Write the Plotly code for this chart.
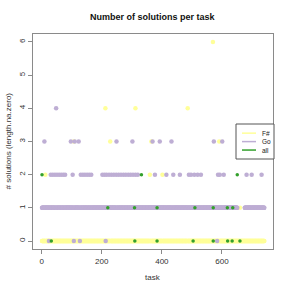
import plotly.graph_objects as go

# ---- data (one character per task, tasks 1..741) ----
FSHARP_STR = (
    "0000000000 0200000000 0000000000 0001000000 0000000000"   # 1-50
    "0000000000 0000000000 0000000000 0000000000 0000000000"   # 51-100
    "0000003000 0000000000 0000000000 0000000000 0000000000"   # 101-150
    "0000000000 0000000000 0000000000 0000000000 0000000000"   # 151-200
    "0000000000 0400000000 0000000300 0000000000 0000000000"   # 201-250
    "0000000000 0000000000 0000000000 0000000000 0000000000"   # 251-300
    "0000000000 0400000000 0000000000 0000000000 0000000000"   # 301-350
    "0000000002 0000300000 0000000000 0000000000 0000000000"   # 351-400
    "0200000000 0000000000 0000000000 0000000000 0000000000"   # 401-450
    "0000000000 0000000000 0000000000 0000040000 0000000000"   # 451-500
    "0000000000 0000000000 0000000000 0000000000 0000000000"   # 501-550
    "0000000000 0000000006 0000000000 0000000000 3000000000"   # 551-600
    "0000000000 0000000000 0000000000 0000000000 0000000000"   # 601-650
    "0000000001 0000000000 0000000000 0000000000 0000000000"   # 651-700
    "0000000000 0000000000 0000000000 0000000000 0"            # 701-741
)
GO_STR = (
    "1111111131 1111111111 1110111112 1111112111 1112111411"   # 1-50
    "2111111211 1111211111 1211111211 1111111111 1111113111"   # 51-100
    "1121110113 1111111111 1131110112 1111112111 1112111111"   # 101-150
    "2111111211 1111211111 1111111111 1111111111 1111111111"   # 151-200
    "1211111121 1101121111 1112111111 1211111112 1111111231"   # 201-250
    "1111121111 1112111111 1211111112 1111111211 1111121111"   # 251-300
    "1312111111 1211111112 1111111111 1111111111 1111111111"   # 301-350
    "1111111111 1111111131 1111112111 1111111111 1131111111"   # 351-400
    "1111111111 1111211111 1111111111 1311111211 1111111111"   # 401-450
    "1111111112 1111111111 1111111111 1111111112 1111112111"   # 451-500
    "1111111211 1111111121 1111111112 1111111111 1111111111"   # 501-550
    "1111111111 1111111111 1131111111 1110112111 1121111111"   # 551-600
    "3111121111 1111111111 1111111111 1111111111 1111111111"   # 601-650
    "1--------- ---------- -----11111 1211111111 1111111121"   # 651-700
    "1111111111 1111111111 1111111111 1211111111 1"            # 701-741
)
ALL_TASK = [32, 310, 384, 504, 571, 619, 634, 660,
            220, 309, 384, 510, 571, 618, 636,
            1, 332, 651]
ALL_VALUE = [0, 0, 0, 0, 0, 0, 0, 0,
             1, 1, 1, 1, 1, 1, 1,
             2, 2, 2]
SERIES_NAMES = ["F#", "Go", "all"]
X_TICKS = [0, 200, 400, 600]
Y_TICKS = [0, 1, 2, 3, 4, 5, 6]


def parse(s):
    chars = s.replace(" ", "")
    xs, ys = [], []
    for i, c in enumerate(chars):
        if c != "-":
            xs.append(i + 1)
            ys.append(int(c))
    return len(chars), xs, ys


n_f, fx, fy = parse(FSHARP_STR)
n_g, gx, gy = parse(GO_STR)
assert n_f == 741 and n_g == 741, (n_f, n_g)

C_F = "#FFFF99"
C_G = "#BEAED4"
C_A = "#33A02C"
COLORS = [C_F, C_G, C_A]
FONT = "Liberation Sans"

fig = go.Figure()
fig.add_trace(go.Scatter(x=fx, y=fy, mode="markers", name=SERIES_NAMES[0],
                         marker=dict(color=C_F, size=4.5, line=dict(width=0)),
                         showlegend=False))
fig.add_trace(go.Scatter(x=gx, y=gy, mode="markers", name=SERIES_NAMES[1],
                         marker=dict(color=C_G, size=4.5, line=dict(width=0)),
                         showlegend=False))
fig.add_trace(go.Scatter(x=ALL_TASK, y=ALL_VALUE, mode="markers", name=SERIES_NAMES[2],
                         marker=dict(color=C_A, size=3.5, line=dict(width=0)),
                         showlegend=False))

axis_common = dict(showgrid=False, zeroline=False, showline=True, mirror=True,
                   linecolor="#8a8a8a", linewidth=1, ticks="outside", ticklen=4,
                   tickcolor="#8a8a8a", automargin=False,
                   tickfont=dict(family=FONT, size=8, color="#333333"))
fig.update_xaxes(range=[-29, 770], tickvals=X_TICKS, **axis_common)
fig.update_yaxes(range=[-0.24, 6.24], tickvals=Y_TICKS, tickangle=-90, **axis_common)

# manual legend (R-style box); one multi-line text so labels don't collide
FS_LEG = 6.5
line_h = FS_LEG * 1.3
lx0, lx1 = (236 - 33) / 240, (274 - 33) / 240
ly_top, ly_bot = (249 - 124) / 215, (249 - 159) / 215
shapes = [dict(type="rect", xref="paper", yref="paper", x0=lx0, x1=lx1,
               y0=ly_bot, y1=ly_top, line=dict(color="#555555", width=1),
               fillcolor="white", layer="above")]
mid_py = 141.6
for k, col in enumerate(COLORS):
    py = mid_py + (k - 1) * line_h
    yy = (249 - py) / 215
    shapes.append(dict(type="line", xref="paper", yref="paper",
                       x0=(242 - 33) / 240, x1=(256 - 33) / 240, y0=yy, y1=yy,
                       line=dict(color=col, width=1.5), layer="above"))
annotations = [dict(text="<br>".join(SERIES_NAMES), xref="paper", yref="paper",
                    x=(260 - 33) / 240, y=(249 - mid_py) / 215, xanchor="left",
                    yanchor="middle", align="left", showarrow=False,
                    font=dict(family=FONT, size=FS_LEG, color="#222222"))]

annotations += [
    dict(text="<b>Number of solutions per task</b>", xref="paper", yref="paper",
         x=0.5, y=(249 - 17) / 215, xanchor="center", yanchor="middle", showarrow=False,
         font=dict(family=FONT, size=9, color="#111111")),
    dict(text="task", xref="paper", yref="paper", x=0.5, y=(249 - 277) / 215,
         xanchor="center", yanchor="middle", showarrow=False,
         font=dict(family=FONT, size=8, color="#333333")),
    dict(text="# solutions (length.na.zero)", xref="paper", yref="paper",
         x=(8 - 33) / 240, y=0.5, xanchor="center", yanchor="middle", textangle=-90,
         showarrow=False, font=dict(family=FONT, size=8, color="#333333")),
]

fig.update_layout(width=291, height=291, margin=dict(l=33, r=18, t=34, b=42),
                  paper_bgcolor="white", plot_bgcolor="white",
                  shapes=shapes, annotations=annotations, showlegend=False)
fig.write_html("out.html", config={"displayModeBar": False},
               post_script="document.body.style.margin='0';document.body.style.overflow='hidden';")
